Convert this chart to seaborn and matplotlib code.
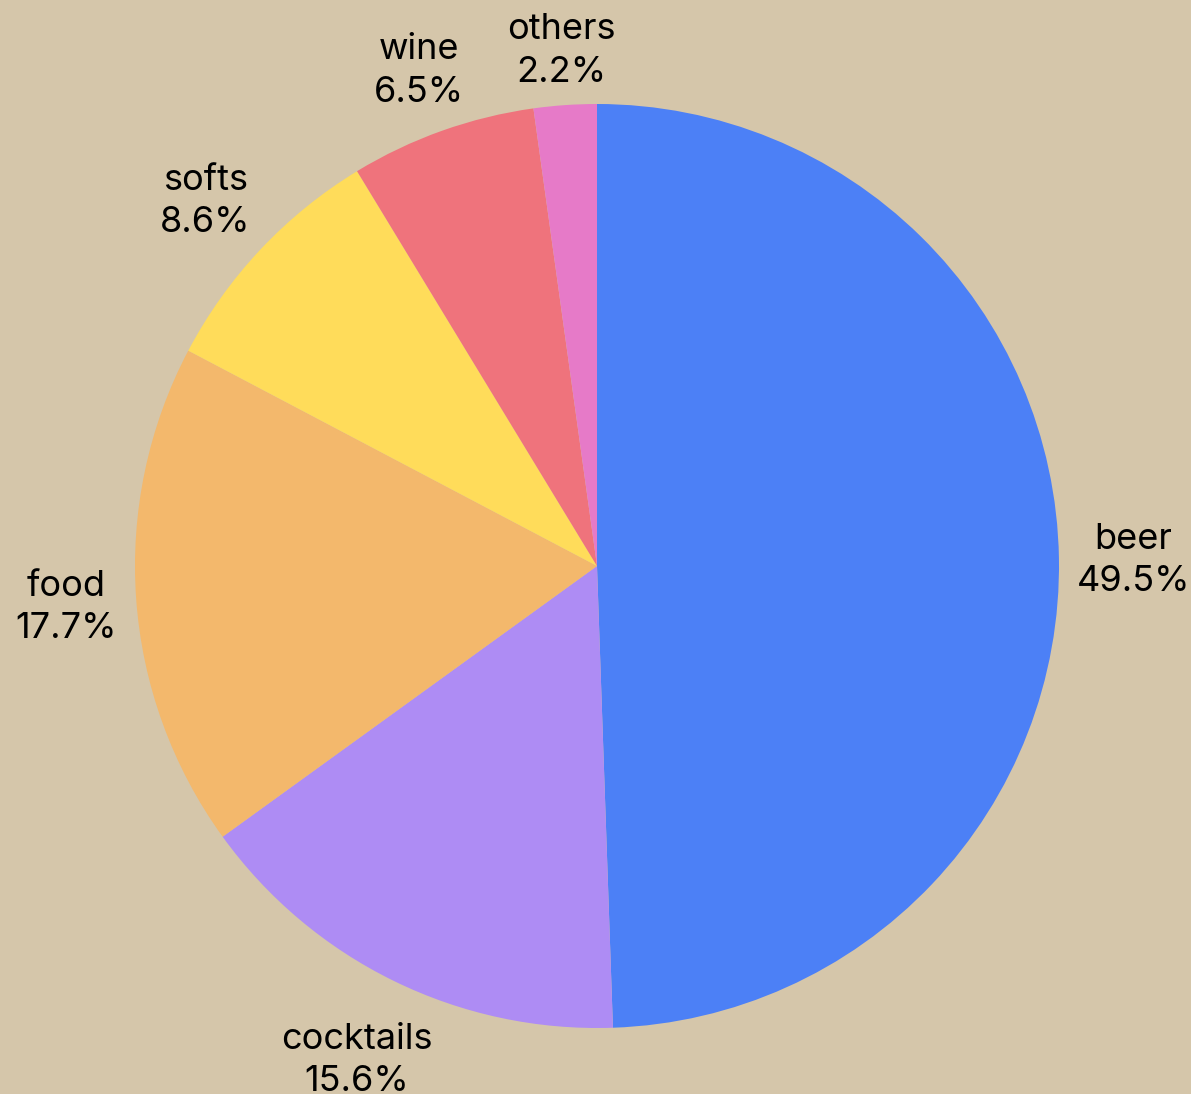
import matplotlib
matplotlib.use("Agg")
import numpy as np
import matplotlib.pyplot as plt
import seaborn as sns

# === data ===
categories = ["beer", "cocktails", "food", "softs", "wine", "others"]
shares = [49.5, 15.6, 17.7, 8.6, 6.5, 2.2]
colors = ["#4C80F6", "#AE8CF4", "#F3B86C", "#FFDC5A", "#EF737C", "#E67AC8"]
bg = "#D5C6AA"

sns.set_theme(style="white")
plt.rcParams["font.family"] = ["Inter", "DejaVu Sans"]

W, H = 1191, 1094
fig = plt.figure(figsize=(W / 100, H / 100), dpi=100, facecolor=bg)

# square axes in pixels, 1 data unit = pie radius (462 px)
rad_px = 462
half = 1.3
side = 2 * half * rad_px
cx, cy = 597, H - 566
ax = fig.add_axes([(cx - side / 2) / W, (cy - side / 2) / H, side / W, side / H])
ax.set_facecolor(bg)

wedges, _ = ax.pie(
    shares,
    colors=colors,
    startangle=90,
    counterclock=False,
    wedgeprops=dict(linewidth=0),
)
ax.set_xlim(-half, half)
ax.set_ylim(-half, half)
ax.set_aspect("equal")
ax.axis("off")

# labels outside, box kept a small gap off the rim
renderer = fig.canvas.get_renderer()
gap = 17 / rad_px
drop = 4 / rad_px
for wdg, cat, val in zip(wedges, categories, shares):
    theta = np.deg2rad((wdg.theta1 + wdg.theta2) / 2)
    t = ax.text(0, 0, f"{cat}\n{val:.1f}%", fontsize=26, color="black",
                ha="center", va="center", multialignment="center",
                linespacing=1.36)
    bb = t.get_window_extent(renderer)
    hw = bb.width / 2 / rad_px
    hh = bb.height / 2 / rad_px
    ext = abs(np.cos(theta)) * hw + abs(np.sin(theta)) * hh
    r = 1 + gap + ext
    t.set_position((r * np.cos(theta), r * np.sin(theta) - drop))

fig.savefig("out.png", dpi=100, facecolor=bg)
plt.close(fig)
